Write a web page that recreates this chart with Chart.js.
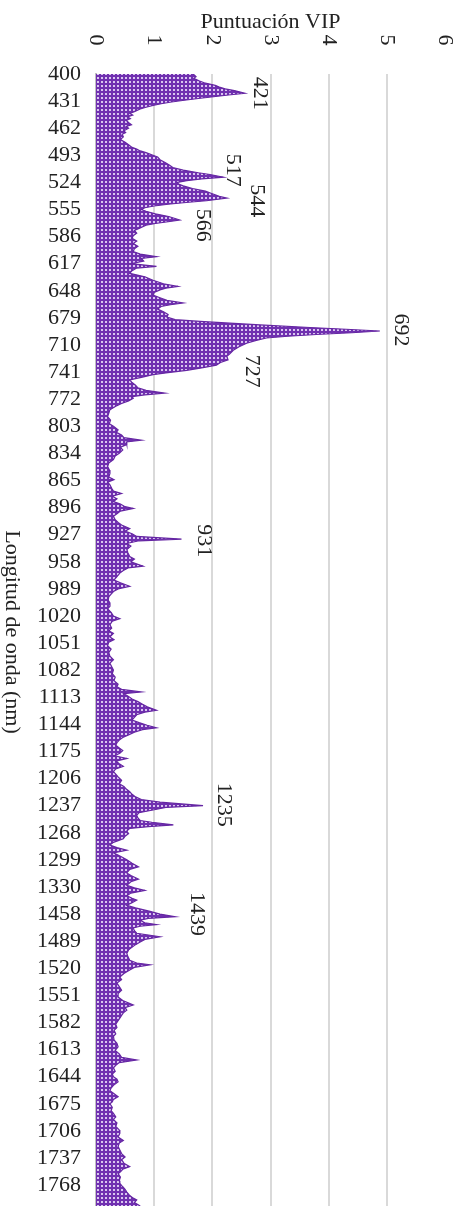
<!DOCTYPE html>
<html>
<head>
<meta charset="utf-8">
<script src="https://cdn.jsdelivr.net/npm/chart.js@4.4.0/dist/chart.umd.min.js"></script>
<style>
  html, body { margin: 0; padding: 0; background: #fff; }
  canvas { display: block; }
</style>
</head>
<body>
<canvas id="vipChart" width="464" height="1206"></canvas>
<script>
// etiquetas del eje de longitud de onda, una cada 31 bandas
const etiquetasNm = [400, 431, 462, 493, 524, 555, 586, 617, 648, 679, 710, 741, 772, 803, 834, 865, 896, 927, 958, 989,
    1020, 1051, 1082, 1113, 1144, 1175, 1206, 1237, 1268, 1299, 1330, 1458, 1489, 1520, 1551, 1582, 1613, 1644, 1675,
    1706, 1737, 1768]
const pasoEtiquetas = 31
const ticksVip = [0, 1, 2, 3, 4, 5, 6]

// posicion de banda (categoria) y puntuacion VIP
const bandas = [0, 3, 5, 8, 10, 13, 15, 17, 19, 22, 24, 26, 28, 30, 32, 34, 36, 38, 40, 43, 45, 47, 49, 51, 53, 56, 58, 60, 62, 65, 67, 69, 72, 75, 78, 81, 84, 86, 88, 90, 93, 95, 98,
    101, 104, 107, 110, 113, 115, 118, 120, 122, 124, 126, 128, 131, 134, 137, 140, 142, 145, 147, 149, 151, 153, 155, 157, 160, 163, 167, 169, 171, 173, 176, 179, 182, 185, 188, 191, 194, 197,
    200, 203, 206, 209, 211, 214, 217, 220, 222, 225, 228, 232, 236, 240, 243, 245, 247, 250, 253, 256, 259, 262, 264, 266, 269, 272, 275, 278, 281, 283, 285, 287, 290, 292, 294, 296, 298,
    300, 302, 305, 308, 312, 316, 320, 323, 327, 330, 333, 336, 339, 342, 344, 347, 350, 353, 356, 359, 362, 365, 367, 369, 371, 374, 377, 380, 384, 388, 392, 396,
    400, 403, 407, 410, 413, 416, 419, 421, 424, 427, 430, 434, 437, 441, 445, 449, 453, 457, 461, 464, 467, 470, 474, 477, 480, 483, 486, 489, 492, 495, 497,
    500, 503, 506, 510, 513, 516, 520, 523, 526, 529, 532, 534, 537, 540, 544, 548, 552, 555, 558, 563, 565, 568, 571, 575, 579, 582, 586, 589, 592, 595, 598,
    602, 605, 609, 612, 616, 620, 623, 626, 630, 634, 637, 640, 644, 647, 650, 654, 658, 662, 666, 670, 674, 678, 682, 686, 690, 694, 698,
    701, 704, 707, 709, 712, 715, 718, 721, 724, 728, 730, 733, 736, 739, 742, 745, 748, 750, 753, 756, 759, 762, 765, 768, 771, 774, 777, 780, 783, 786, 789, 792, 795, 798,
    801, 804, 808, 812, 815, 818, 821, 824, 827, 830, 833, 837, 839, 842, 845, 848, 851, 854, 856, 859, 861, 863, 866, 869, 872, 875, 879, 882, 885, 888, 891, 895, 899,
    903, 907, 910, 914, 917, 921, 924, 928, 931, 934, 937, 940, 943, 945, 948, 951, 954, 958, 961, 964, 966, 968, 971, 973, 975, 977, 980, 983, 987, 990, 993, 996, 998,
    1002, 1006, 1010, 1014, 1017, 1019, 1022, 1025, 1029, 1033, 1036, 1040, 1044, 1048, 1052, 1056, 1060, 1065, 1068, 1071, 1074, 1077, 1080, 1083, 1087, 1091, 1094, 1098,
    1101, 1105, 1109, 1113, 1117, 1121, 1125, 1128, 1131, 1134, 1137, 1141, 1144, 1147, 1150, 1153, 1157, 1160, 1163, 1166, 1170, 1173, 1176, 1178, 1182, 1186, 1189, 1193, 1196,
    1200, 1204, 1208, 1212, 1216, 1220, 1223, 1227, 1231, 1235, 1239, 1242, 1246, 1250, 1253, 1256, 1258, 1262, 1266, 1269, 1273, 1276, 1279, 1283, 1286, 1288, 1291, 1295]
const vip = [1.67, 1.72, 1.68, 1.78, 1.86, 2.05, 2.12, 2.22, 2.38, 2.56, 2.28, 2.02, 1.76, 1.52, 1.30, 1.12, 0.98, 0.86, 0.76, 0.66, 0.58, 0.63, 0.54, 0.59, 0.52, 0.57, 0.61, 0.52, 0.56, 0.48, 0.51, 0.45, 0.47, 0.42, 0.50, 0.56, 0.62, 0.70, 0.76, 0.86, 0.98, 1.06, 1.10,
    1.18, 1.26, 1.32, 1.50, 1.76, 1.96, 2.19, 1.82, 1.56, 1.40, 1.42, 1.50, 1.66, 1.88, 2.00, 2.12, 2.25, 1.90, 1.55, 1.24, 1.00, 0.84, 0.78, 0.86, 1.02, 1.25, 1.44, 1.24, 1.02, 0.86, 0.76, 0.66, 0.70, 0.64, 0.62, 0.70, 0.64, 0.72,
    0.66, 0.64, 0.76, 1.04, 0.78, 0.82, 0.60, 1.04, 0.70, 0.62, 0.58, 0.84, 0.98, 1.16, 1.41, 1.20, 1.10, 1.00, 0.98, 1.10, 1.22, 1.50, 1.28, 1.12, 1.06, 1.16, 1.24, 1.22, 1.36, 1.79, 2.30, 2.82, 3.68, 4.30, 4.88, 4.40, 3.79,
    3.30, 2.93, 2.74, 2.59, 2.46, 2.36, 2.30, 2.25, 2.27, 2.14, 2.07, 1.84, 1.56, 1.20, 0.98, 0.78, 0.58, 0.62, 0.68, 0.72, 0.86, 1.18, 0.84, 0.62, 0.64, 0.56, 0.44, 0.34, 0.24, 0.22, 0.20, 0.25,
    0.23, 0.30, 0.38, 0.35, 0.44, 0.48, 0.78, 0.52, 0.53, 0.42, 0.46, 0.40, 0.33, 0.30, 0.22, 0.20, 0.23, 0.24, 0.22, 0.31, 0.20, 0.24, 0.27, 0.30, 0.44, 0.28, 0.36, 0.30, 0.42, 0.50, 0.64,
    0.42, 0.36, 0.30, 0.33, 0.38, 0.44, 0.58, 0.50, 0.62, 0.70, 1.47, 0.74, 0.53, 0.60, 0.53, 0.55, 0.58, 0.66, 0.60, 0.81, 0.55, 0.47, 0.41, 0.36, 0.31, 0.42, 0.58, 0.38, 0.30, 0.26, 0.22,
    0.21, 0.24, 0.24, 0.20, 0.26, 0.30, 0.41, 0.28, 0.24, 0.27, 0.22, 0.30, 0.24, 0.31, 0.22, 0.20, 0.26, 0.22, 0.24, 0.30, 0.24, 0.27, 0.30, 0.28, 0.33, 0.31, 0.38,
    0.36, 0.44, 0.78, 0.48, 0.56, 0.62, 0.72, 0.80, 0.88, 1.04, 0.84, 0.70, 0.66, 0.62, 0.74, 0.88, 1.04, 0.80, 0.66, 0.56, 0.46, 0.40, 0.36, 0.34, 0.40, 0.46, 0.41, 0.32, 0.53, 0.34, 0.40, 0.47, 0.34, 0.30,
    0.34, 0.38, 0.44, 0.40, 0.48, 0.52, 0.58, 0.62, 0.68, 0.78, 1.10, 1.84, 1.20, 0.98, 0.74, 0.70, 0.72, 0.76, 0.96, 1.33, 0.90, 0.58, 0.53, 0.56, 0.50, 0.47, 0.30, 0.24, 0.36, 0.53, 0.30, 0.42, 0.53,
    0.62, 0.73, 0.58, 0.53, 0.60, 0.73, 0.60, 0.53, 0.66, 0.84, 0.60, 0.53, 0.62, 0.70, 0.62, 0.53, 0.68, 0.93, 1.10, 1.36, 0.90, 0.76, 0.84, 1.04, 0.76, 0.64, 0.66, 0.70, 1.10, 0.84, 0.76, 0.68, 0.64,
    0.56, 0.53, 0.55, 0.58, 0.70, 0.93, 0.66, 0.58, 0.48, 0.41, 0.44, 0.36, 0.40, 0.44, 0.38, 0.38, 0.46, 0.64, 0.50, 0.53, 0.47, 0.44, 0.41, 0.38, 0.34, 0.36, 0.31, 0.34,
    0.30, 0.31, 0.36, 0.38, 0.33, 0.40, 0.44, 0.70, 0.40, 0.34, 0.30, 0.33, 0.28, 0.30, 0.36, 0.38, 0.30, 0.26, 0.24, 0.30, 0.38, 0.30, 0.28, 0.24, 0.28, 0.26, 0.30, 0.34, 0.30,
    0.36, 0.34, 0.40, 0.41, 0.38, 0.47, 0.40, 0.38, 0.41, 0.44, 0.50, 0.44, 0.48, 0.58, 0.46, 0.42, 0.38, 0.42, 0.40, 0.41, 0.46, 0.50, 0.53, 0.58, 0.64, 0.70, 0.66, 0.76]

// etiquetas de picos: texto, banda y valor donde va el centro del texto
const picosTexto = ['421', '517', '544', '566', '692', '727', '931', '1235', '1439']
const picosBanda = [22, 110, 145, 173, 293, 340, 534, 836, 961]
const picosVip = [2.82, 2.35, 2.76, 1.84, 5.24, 2.67, 1.86, 2.19, 1.73]

const serif = "'Liberation Serif', 'Times New Roman', serif"
const colorTexto = '#222'

const makePattern = () => {
    const c = document.createElement('canvas')
    c.width = 4
    c.height = 4
    const g = c.getContext('2d')
    g.fillStyle = '#7030b0'
    g.fillRect(0, 0, 4, 4)
    g.fillStyle = '#d9c6ef'
    g.fillRect(1, 1, 2, 2)
    return g.createPattern(c, 'repeat')
}

const drawRotated = (ctx, text, x, y) => {
    ctx.save()
    ctx.translate(x, y)
    ctx.rotate(Math.PI / 2)
    ctx.fillText(text, 0, 0)
    ctx.restore()
}

const textos = {
    id: 'textos',
    afterDatasetsDraw(chart) {
        const { ctx, scales: { x, y } } = chart
        ctx.save()
        ctx.fillStyle = colorTexto
        ctx.font = '22px ' + serif
        ctx.textAlign = 'center'
        ctx.textBaseline = 'middle'
        picosTexto.forEach((t, i) => {
            drawRotated(ctx, t, x.getPixelForValue(picosVip[i]), y.getPixelForValue(picosBanda[i]))
        })
        ctx.restore()
    },
    afterDraw(chart) {
        const { ctx, chartArea, scales: { x } } = chart
        ctx.save()
        ctx.fillStyle = colorTexto
        ctx.font = '22px ' + serif
        ctx.textAlign = 'center'
        ctx.textBaseline = 'middle'
        ctx.fillText('Puntuación VIP', (chartArea.left + chartArea.right) / 2, 22)
        ticksVip.forEach(v => drawRotated(ctx, String(v), x.getPixelForValue(v), 40))
        drawRotated(ctx, 'Longitud de onda (nm)', 12, 632)
        ctx.restore()
    }
}

const ctx = document.getElementById('vipChart').getContext('2d')
const chart = new Chart(ctx, {
    type: 'line',
    data: {
        datasets: [{
            data: bandas.map((b, i) => ({ x: vip[i], y: b })),
            borderColor: '#6526a3',
            borderWidth: 1.2,
            backgroundColor: makePattern(),
            fill: 'origin',
            pointRadius: 0,
            tension: 0
        }]
    },
    options: {
        indexAxis: 'y',
        responsive: false,
        animation: false,
        layout: { padding: { right: 19, top: 0, bottom: 0, left: 0 } },
        plugins: { legend: { display: false }, tooltip: { enabled: false } },
        scales: {
            x: {
                type: 'linear',
                position: 'top',
                min: 0,
                max: 6,
                ticks: { display: false, stepSize: 1 },
                grid: {
                    color: (c) => c.tick && c.tick.value === 6 ? 'rgba(0,0,0,0)' : '#d9d9d9',
                    lineWidth: 2,
                    drawTicks: false
                },
                border: { display: false },
                afterFit: (s) => { s.height = 74 }
            },
            y: {
                type: 'linear',
                reverse: true,
                min: 0,
                max: 1295,
                afterBuildTicks: (s) => { s.ticks = etiquetasNm.map((n, i) => ({ value: i * pasoEtiquetas })) },
                ticks: {
                    autoSkip: false,
                    padding: 15,
                    color: colorTexto,
                    font: { family: serif, size: 22 },
                    callback: (v) => etiquetasNm[Math.round(v / pasoEtiquetas)]
                },
                grid: { display: false, drawTicks: false },
                border: { display: true, color: '#bfbfbf', width: 2 },
                afterFit: (s) => {
                    s.width = 96
                    s.paddingTop = 0
                    s.paddingBottom = 0
                }
            }
        }
    },
    plugins: [textos]
})
</script>
</body>
</html>
